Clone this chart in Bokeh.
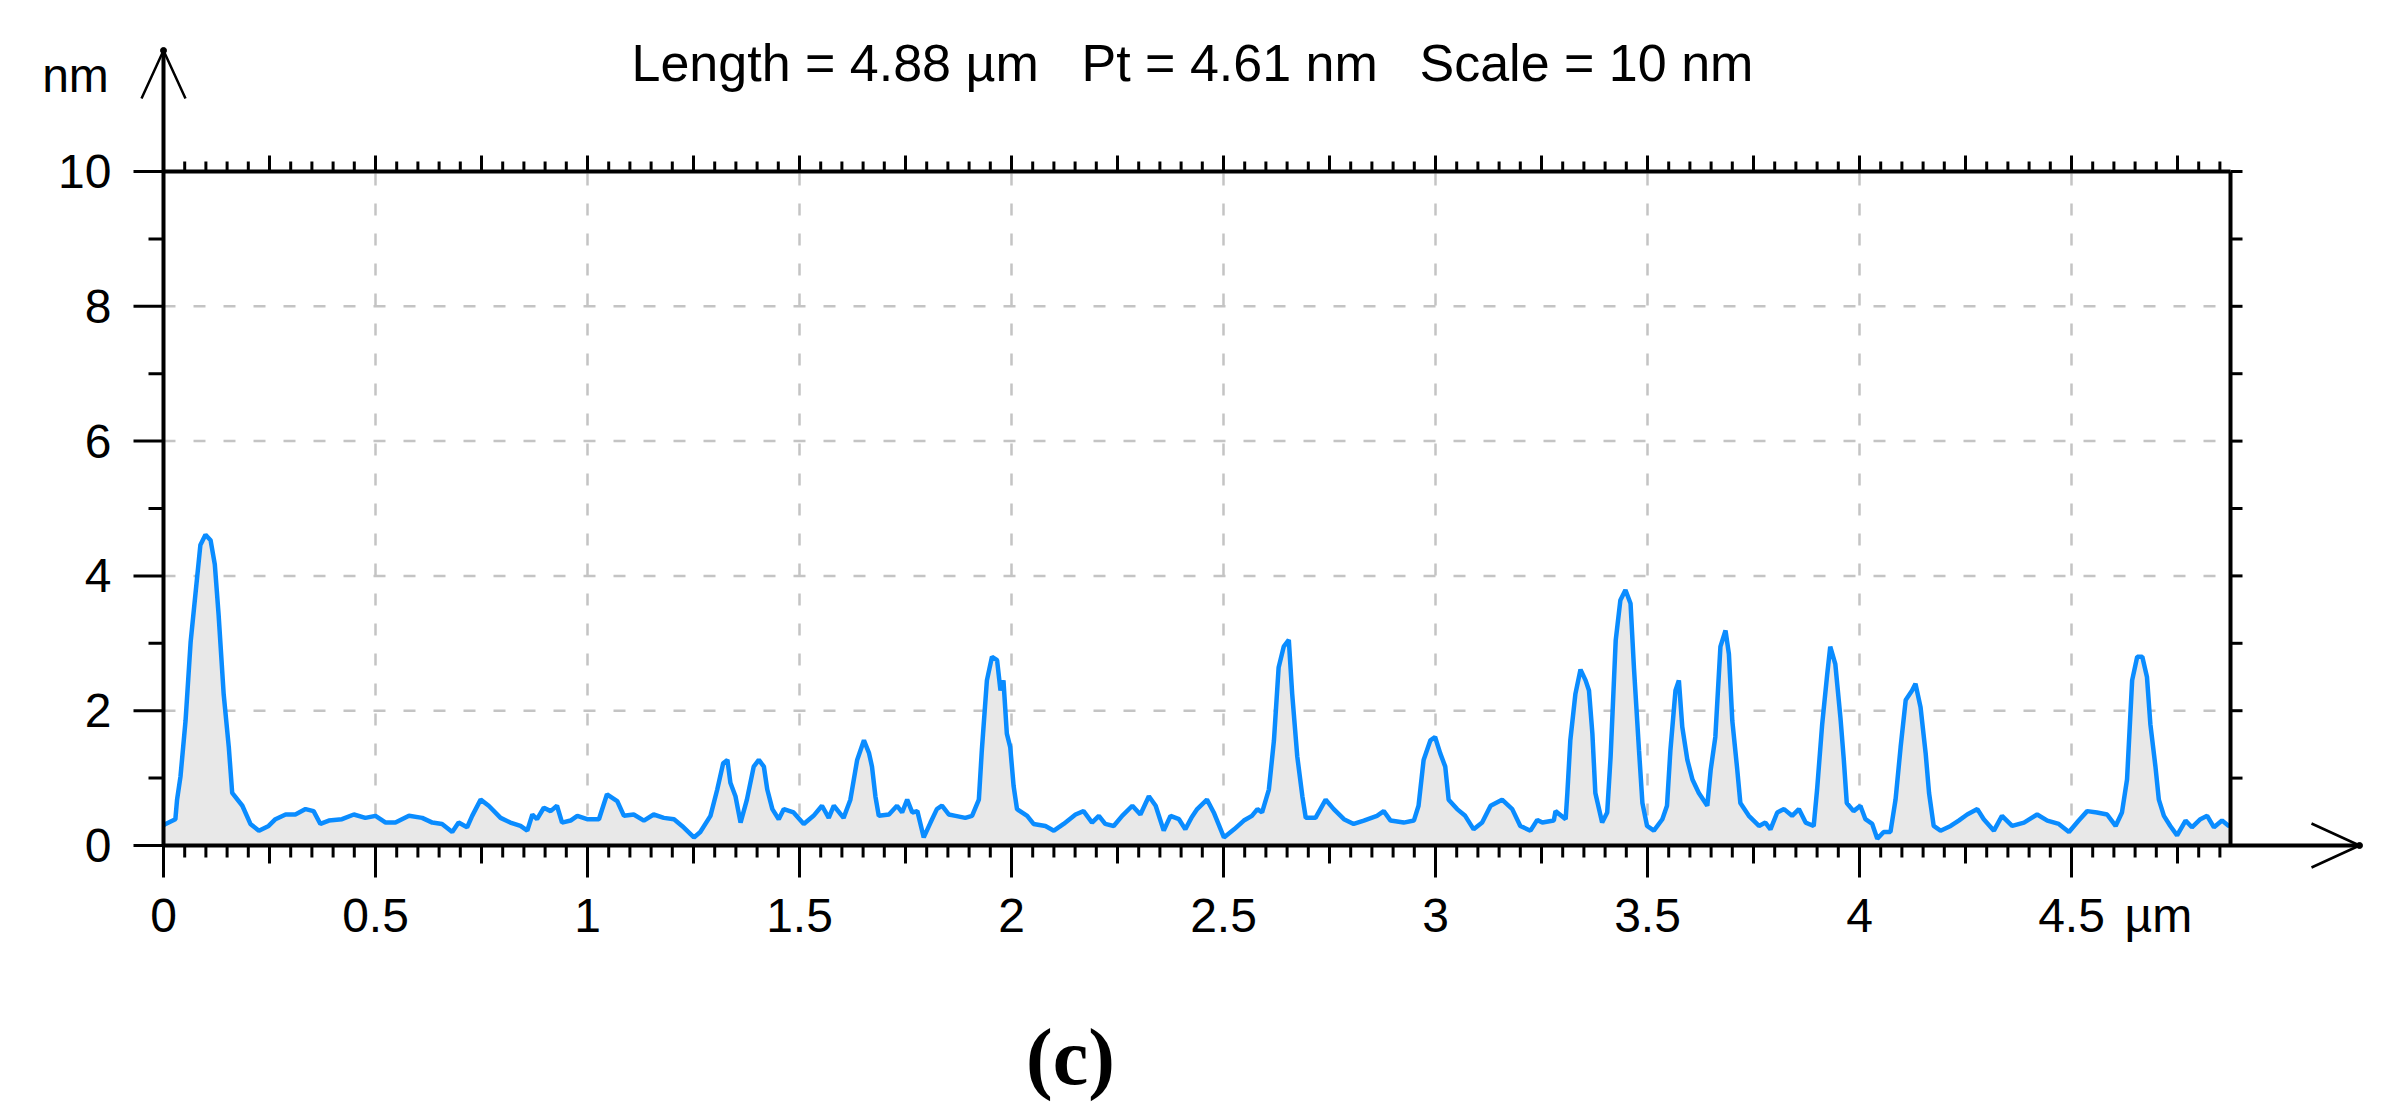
from bokeh.plotting import figure
from bokeh.models import Range1d
from bokeh.core.properties import value
from bokeh.embed import file_html
from bokeh.resources import INLINE

# ---------------- data ----------------
x_um = [0.000, 0.005, 0.028, 0.032, 0.040, 0.052, 0.064, 0.075, 0.087, 0.099,
        0.111, 0.121, 0.130, 0.142, 0.154, 0.162, 0.186, 0.205, 0.225, 0.248,
        0.264, 0.288, 0.311, 0.335, 0.354, 0.370, 0.390, 0.421, 0.449, 0.476,
        0.500, 0.524, 0.547, 0.579, 0.610, 0.634, 0.657, 0.681, 0.696, 0.716,
        0.728, 0.748, 0.767, 0.795, 0.818, 0.842, 0.858, 0.870, 0.881, 0.897,
        0.913, 0.928, 0.940, 0.960, 0.976, 0.999, 1.027, 1.046, 1.070, 1.086,
        1.109, 1.133, 1.156, 1.180, 1.204, 1.223, 1.251, 1.266, 1.290, 1.306,
        1.320, 1.330, 1.337, 1.349, 1.361, 1.376, 1.392, 1.404, 1.416, 1.424,
        1.436, 1.451, 1.463, 1.486, 1.510, 1.533, 1.553, 1.569, 1.581, 1.604,
        1.620, 1.636, 1.652, 1.664, 1.671, 1.679, 1.687, 1.711, 1.730, 1.742,
        1.754, 1.766, 1.778, 1.793, 1.809, 1.824, 1.836, 1.852, 1.868, 1.891,
        1.907, 1.923, 1.930, 1.942, 1.954, 1.966, 1.974, 1.981, 1.989, 1.997,
        2.005, 2.013, 2.037, 2.052, 2.080, 2.100, 2.123, 2.151, 2.170, 2.190,
        2.206, 2.221, 2.241, 2.261, 2.285, 2.304, 2.324, 2.340, 2.359, 2.375,
        2.395, 2.410, 2.425, 2.438, 2.461, 2.477, 2.501, 2.525, 2.548, 2.567,
        2.580, 2.591, 2.607, 2.619, 2.630, 2.642, 2.654, 2.662, 2.674, 2.686,
        2.694, 2.717, 2.741, 2.760, 2.784, 2.807, 2.831, 2.862, 2.878, 2.894,
        2.925, 2.949, 2.960, 2.972, 2.988, 2.999, 3.011, 3.023, 3.031, 3.051,
        3.070, 3.090, 3.110, 3.130, 3.157, 3.181, 3.200, 3.224, 3.240, 3.252,
        3.279, 3.283, 3.307, 3.311, 3.318, 3.330, 3.342, 3.354, 3.362, 3.370,
        3.377, 3.393, 3.405, 3.413, 3.425, 3.436, 3.448, 3.460, 3.468, 3.480,
        3.488, 3.499, 3.515, 3.535, 3.546, 3.554, 3.566, 3.574, 3.582, 3.594,
        3.606, 3.621, 3.641, 3.649, 3.660, 3.672, 3.684, 3.692, 3.700, 3.711,
        3.719, 3.739, 3.763, 3.778, 3.790, 3.806, 3.822, 3.841, 3.857, 3.873,
        3.892, 3.900, 3.912, 3.924, 3.931, 3.943, 3.955, 3.963, 3.970, 3.986,
        4.002, 4.014, 4.030, 4.042, 4.057, 4.073, 4.085, 4.097, 4.109, 4.124,
        4.132, 4.144, 4.156, 4.164, 4.175, 4.191, 4.215, 4.234, 4.254, 4.278,
        4.293, 4.317, 4.336, 4.360, 4.388, 4.419, 4.443, 4.470, 4.494, 4.517,
        4.537, 4.560, 4.584, 4.604, 4.619, 4.631, 4.643, 4.655, 4.667, 4.678,
        4.686, 4.698, 4.706, 4.718, 4.733, 4.749, 4.769, 4.784, 4.804, 4.820,
        4.836, 4.855, 4.871, 4.875]

height_nm = [0.30, 0.32, 0.39, 0.68, 1.02, 1.85, 3.02, 3.71, 4.46, 4.61,
             4.53, 4.17, 3.42, 2.24, 1.46, 0.78, 0.59, 0.32, 0.22, 0.29,
             0.39, 0.46, 0.46, 0.54, 0.51, 0.32, 0.37, 0.39, 0.46, 0.41,
             0.44, 0.34, 0.34, 0.44, 0.41, 0.34, 0.32, 0.20, 0.34, 0.27,
             0.44, 0.68, 0.59, 0.41, 0.34, 0.29, 0.22, 0.46, 0.39, 0.56,
             0.51, 0.59, 0.34, 0.37, 0.44, 0.39, 0.39, 0.76, 0.66, 0.44,
             0.46, 0.37, 0.46, 0.41, 0.39, 0.29, 0.12, 0.20, 0.44, 0.83,
             1.22, 1.27, 0.93, 0.73, 0.34, 0.68, 1.17, 1.27, 1.17, 0.83,
             0.54, 0.39, 0.54, 0.49, 0.32, 0.44, 0.59, 0.41, 0.59, 0.41,
             0.68, 1.27, 1.56, 1.37, 1.17, 0.73, 0.44, 0.46, 0.59, 0.49,
             0.68, 0.49, 0.51, 0.12, 0.34, 0.54, 0.59, 0.46, 0.44, 0.41,
             0.44, 0.68, 1.41, 2.45, 2.80, 2.75, 2.30, 2.45, 1.66, 1.46,
             0.88, 0.54, 0.44, 0.32, 0.29, 0.22, 0.32, 0.46, 0.51, 0.34,
             0.44, 0.32, 0.29, 0.44, 0.59, 0.46, 0.73, 0.59, 0.22, 0.44,
             0.39, 0.24, 0.42, 0.54, 0.68, 0.49, 0.12, 0.24, 0.37, 0.44,
             0.54, 0.49, 0.83, 1.56, 2.64, 2.95, 3.05, 2.25, 1.32, 0.73,
             0.41, 0.41, 0.68, 0.54, 0.39, 0.32, 0.37, 0.44, 0.51, 0.37,
             0.34, 0.37, 0.59, 1.27, 1.56, 1.61, 1.37, 1.17, 0.68, 0.54,
             0.44, 0.24, 0.34, 0.59, 0.68, 0.54, 0.29, 0.22, 0.38, 0.34,
             0.37, 0.51, 0.39, 0.78, 1.56, 2.25, 2.61, 2.45, 2.30, 1.66,
             0.78, 0.34, 0.49, 1.32, 3.04, 3.64, 3.79, 3.59, 2.64, 1.41,
             0.63, 0.29, 0.22, 0.39, 0.59, 1.41, 2.30, 2.45, 1.76, 1.27,
             0.98, 0.78, 0.59, 1.12, 1.61, 2.95, 3.19, 2.84, 1.85, 1.17,
             0.63, 0.44, 0.29, 0.34, 0.24, 0.49, 0.54, 0.44, 0.54, 0.34,
             0.29, 0.83, 1.80, 2.55, 2.95, 2.69, 1.90, 1.27, 0.63, 0.51,
             0.59, 0.39, 0.32, 0.10, 0.20, 0.20, 0.68, 1.46, 2.16, 2.30,
             2.40, 2.05, 1.37, 0.78, 0.29, 0.22, 0.29, 0.37, 0.46, 0.54,
             0.39, 0.22, 0.44, 0.29, 0.34, 0.46, 0.37, 0.32, 0.20, 0.37,
             0.51, 0.49, 0.46, 0.29, 0.49, 0.98, 2.45, 2.80, 2.80, 2.50,
             1.80, 1.17, 0.68, 0.44, 0.29, 0.15, 0.37, 0.27, 0.39, 0.44,
             0.27, 0.37, 0.29, 0.30]

x_tick_values = [0, 0.5, 1, 1.5, 2, 2.5, 3, 3.5, 4, 4.5]
x_tick_labels = ["0", "0.5", "1", "1.5", "2", "2.5", "3", "3.5", "4", "4.5"]
y_tick_values = [0, 2, 4, 6, 8, 10]
y_tick_labels = ["0", "2", "4", "6", "8", "10"]
y_minor_values = [1, 3, 5, 7, 9]
scan_length_um = 4.875
y_max_nm = 10
title_parts = ["Length = 4.88 \u00b5m", "Pt = 4.61 nm", "Scale = 10 nm"]
x_unit = "\u00b5m"
y_unit = "nm"
panel_tag = "(c)"

# ---------------- geometry (screen pixels of the page) ----------------
W, H = 2370, 1110
X_ORG, Y_ORG = 163, 845          # pixel of (0 um, 0 nm)
PX_UM, PX_NM = 424.0, 67.4       # pixels per unit


def dx(px):
    return px / PX_UM


def dy(px):
    return px / PX_NM


FONT = "Liberation Sans"
AX_LW = 4
TK_LW = 3

p = figure(width=W, height=H, output_backend="svg", toolbar_location=None,
           x_range=Range1d(-X_ORG / PX_UM, (W - X_ORG) / PX_UM),
           y_range=Range1d(-(H - Y_ORG) / PX_NM, Y_ORG / PX_NM),
           x_axis_location=None, y_axis_location=None, title_location=None,
           min_border=0)
p.grid.visible = False
p.outline_line_color = None
p.background_fill_color = "white"
p.border_fill_color = "white"

# ---- dashed grid ----
gx = x_tick_values[1:]
gy = y_tick_values[1:-1]
p.multi_line(xs=[[g, g] for g in gx] + [[0, scan_length_um] for _ in gy],
             ys=[[0, y_max_nm] for _ in gx] + [[g, g] for g in gy],
             line_color="#c4c4c4", line_width=2.5, line_dash="12 18")

# ---- profile ----
p.varea(x=x_um, y1=0, y2=height_nm, fill_color="#e8e8e8")
p.line(x=x_um, y=height_nm, line_color="#0a8cff", line_width=4.5)

# ---- ticks ----
minor_x = [round(i * 0.05, 2) for i in range(0, 98)]
quarter_x = [round(i * 0.25, 2) for i in range(0, 20)]
mid_x = [q for q in quarter_x if q not in x_tick_values]

# bottom: minor / medium / major, pointing down
for xs_, ln in ((minor_x, 12), (mid_x, 18), (x_tick_values, 32)):
    p.segment(x0=xs_, y0=[0] * len(xs_), x1=xs_, y1=[-dy(ln)] * len(xs_),
              line_color="black", line_width=TK_LW)
# top: minor / quarter, pointing up
for xs_, ln in ((minor_x, 10), (quarter_x, 16)):
    p.segment(x0=xs_, y0=[y_max_nm] * len(xs_), x1=xs_, y1=[y_max_nm + dy(ln)] * len(xs_),
              line_color="black", line_width=TK_LW)
# left: major / minor, pointing left
for ys_, ln in ((y_tick_values, 30), (y_minor_values, 15)):
    p.segment(x0=[0] * len(ys_), y0=ys_, x1=[-dx(ln)] * len(ys_), y1=ys_,
              line_color="black", line_width=TK_LW)
# right: every nm, pointing right
right_y = list(range(0, y_max_nm + 1))
p.segment(x0=[scan_length_um] * len(right_y), y0=right_y,
          x1=[scan_length_um + dx(12)] * len(right_y), y1=right_y,
          line_color="black", line_width=TK_LW)

# ---- axis lines and frame ----
y_tip = dy(Y_ORG - 50)
x_tip = dx(2359 - X_ORG)
p.segment(x0=[0, 0, 0, scan_length_um], y0=[0, 0, y_max_nm, 0],
          x1=[0, x_tip, scan_length_um, scan_length_um], y1=[y_tip, 0, y_max_nm, y_max_nm],
          line_color="black", line_width=AX_LW)
# arrow heads (open V)
p.multi_line(xs=[[-dx(22), 0, dx(22)], [x_tip - dx(48), x_tip, x_tip - dx(48)]],
             ys=[[y_tip - dy(48), y_tip, y_tip - dy(48)], [dy(22), 0, -dy(22)]],
             line_color="black", line_width=2.5)
p.scatter(x=[0, x_tip], y=[y_tip, 0], size=6, color="black")

# ---- tick labels ----
p.text(x=[-dx(30 + 22)] * len(y_tick_values), y=y_tick_values, text=y_tick_labels,
       text_font=value(FONT), text_font_size=value("48px"), text_color="black",
       text_align="right", text_baseline="middle")
p.text(x=x_tick_values, y=[-dy(915 - Y_ORG)] * len(x_tick_values), text=x_tick_labels,
       text_font=value(FONT), text_font_size=value("48px"), text_color="black",
       text_align="center", text_baseline="middle")
p.text(x=[dx(2124 - X_ORG)], y=[-dy(915 - Y_ORG)], text=[x_unit],
       text_font=value(FONT), text_font_size=value("48px"), text_color="black",
       text_align="left", text_baseline="middle")

# ---- unit, title, panel tag ----
p.text(x=[dx(75 - X_ORG)], y=[dy(Y_ORG - 75)], text=[y_unit],
       text_font=value(FONT), text_font_size=value("48px"), text_color="black",
       text_align="center", text_baseline="middle")
p.text(x=[dx(631 - X_ORG), dx(1081 - X_ORG), dx(1419 - X_ORG)],
       y=[dy(Y_ORG - 62)] * 3, text=title_parts,
       text_font=value(FONT), text_font_size=value("52px"), text_color="black",
       text_align="left", text_baseline="middle")
p.text(x=[dx(1070 - X_ORG)], y=[-dy(1056 - Y_ORG)], text=[panel_tag],
       text_font=value("Liberation Serif"), text_font_style="bold",
       text_font_size=value("80px"), text_color="black",
       text_align="center", text_baseline="middle")

open("out.html", "w").write(file_html(p, INLINE))
